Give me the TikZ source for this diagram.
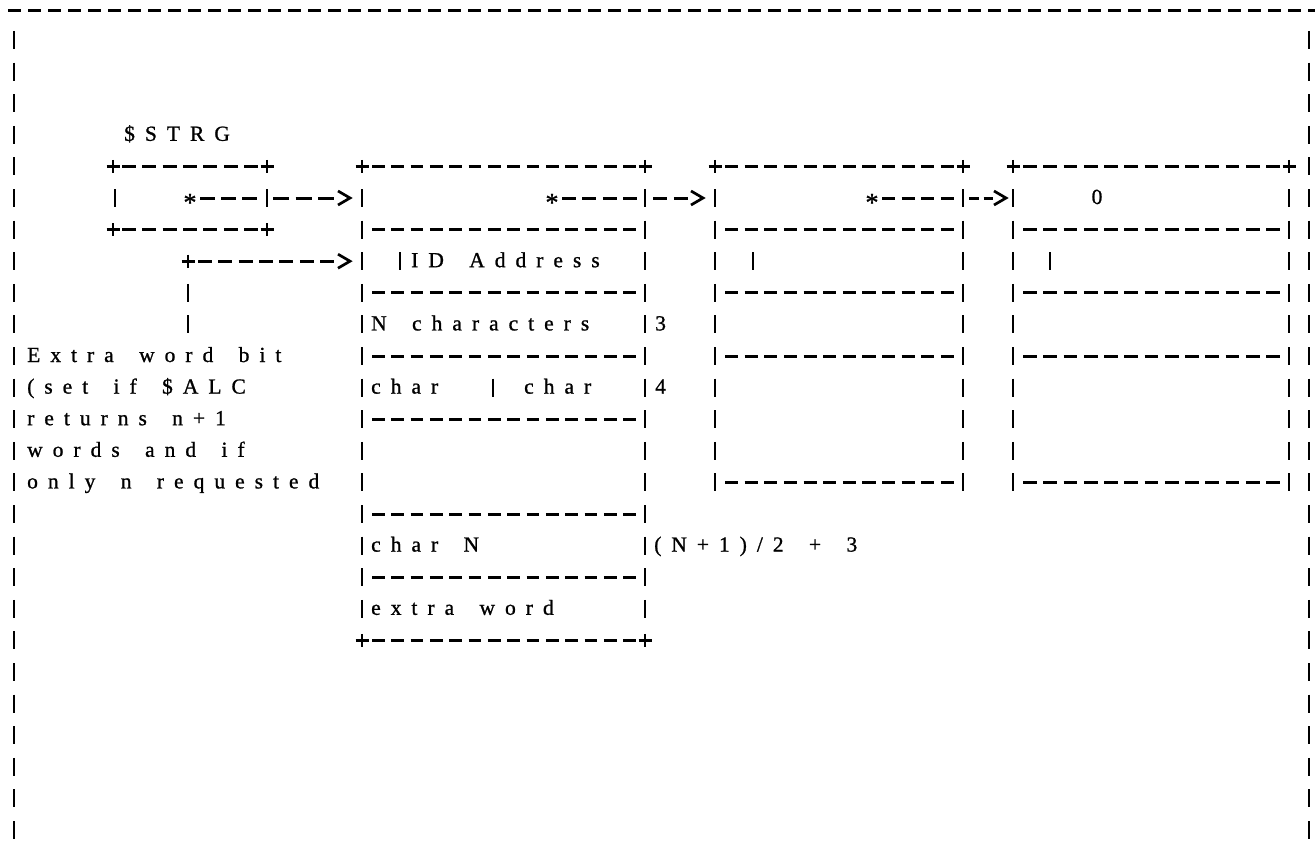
\documentclass[tikz,border=0pt]{standalone}
\usepackage{fontspec}
\setmainfont{Liberation Serif}
\newfontfamily\tw[FakeBold=1]{Liberation Serif}
\newlength\lsw \setlength\lsw{10pt}
\makeatletter
\def\ls@end{\ls@end}
\def\ls@loop#1{\ifx#1\ls@end\else#1\kern\lsw\expandafter\ls@loop\fi}
\newcommand\spaced[1]{\ls@loop#1\ls@end}
\makeatother
% glyph-like marks of the ASCII drawing
\newcommand\VB[2]{\draw[ink] (#1,{ry(#2)-9}) -- (#1,{ry(#2)+9});}
\newcommand\PL[2]{\draw[ink] (#1-6.5,{ry(#2)}) -- (#1+6.5,{ry(#2)}) (#1,{ry(#2)-6.5}) -- (#1,{ry(#2)+6.5});}
\newcommand\AR[2]{\draw[ink,line join=miter] (#1-6,{ry(#2)-7}) -- (#1+6,{ry(#2)}) -- (#1-6,{ry(#2)+7});}
\newcommand\DR[4]{\pgfmathsetmacro\dashlen{(#2-#1-(#4-1)*6.5)/#4}\draw[dsh,dash pattern=on \dashlen pt off 6.5pt] (#1,{ry(#3)}) -- (#2,{ry(#3)});}
\begin{document}
\begin{tikzpicture}[x=1pt,y=-1pt,
  declare function={ry(\r)=40+(\r-1)*31.6;},
  ink/.style={line width=2.7pt,line cap=butt},
  dsh/.style={line width=3pt,line cap=butt},
  txt/.style={anchor=base west,inner sep=0pt,font=\tw\fontsize{21.5}{24}\selectfont},
  star/.style={anchor=base,inner sep=0pt,font=\tw\fontsize{26}{26}\selectfont},
  digit/.style={anchor=base,inner sep=0pt,font=\tw\fontsize{21.5}{24}\selectfont}]
\useasboundingbox (0,0) rectangle (1315,859);
% frame
\draw[dsh,dash pattern=on 13pt off 7pt] (8,11) -- (1315,11);
\foreach \r in {1,...,26}{\VB{14}{\r}\VB{1309}{\r}}
% ---------- box 1 ($STRG)
\node[txt] (strg) at (124,{ry(4)+6}) {\spaced{\$STRG}};
\PL{113}{5}\DR{122}{258}{5}{7}\PL{267}{5}
\VB{115}{6}\node[star] (s1) at (190,{ry(6)+13}) {*};
\DR{200}{257}{6}{3}\VB{267}{6}\DR{273}{334}{6}{3}\AR{344}{6}
\PL{113}{7}\DR{122}{258}{7}{7}\PL{267}{7}
\PL{188}{8}\DR{198}{334}{8}{7}\AR{344}{8}
\VB{188}{9}\VB{188}{10}
% left note
\node[txt] (n1) at (27,{ry(11)+6}) {\spaced{Extra~word~bit}};
\node[txt] (n2) at (27,{ry(12)+6}) {\spaced{(set~if~\$ALC}};
\node[txt] (n3) at (27,{ry(13)+6}) {\spaced{returns~n+1}};
\node[txt] (n4) at (27,{ry(14)+6}) {\spaced{words~and~if}};
\node[txt] (n5) at (27,{ry(15)+6}) {\spaced{only~n~requested}};
% ---------- box 2
\PL{362}{5}\DR{372}{636}{5}{14}\PL{645}{5}
\PL{362}{20}\DR{372}{636}{20}{14}\PL{645}{20}
\foreach \r in {6,8,10,12,14,15,17,19}{\VB{362}{\r}\VB{645}{\r}}
\foreach \r in {7,9,11,13,16,18}{\VB{362}{\r}\DR{372}{636}{\r}{14}\VB{645}{\r}}
\node[star] (s2) at (552,{ry(6)+13}) {*};
\DR{562}{637}{6}{4}\DR{653}{688}{6}{2}\AR{697}{6}
\VB{400}{8}
\node[txt] (idad) at (411,{ry(8)+6}) {\spaced{ID~Address}};
\node[txt] (nchr) at (371,{ry(10)+6}) {\spaced{N~characters}};
\node[txt] (c3) at (655,{ry(10)+6}) {3};
\node[txt] (ch1) at (371,{ry(12)+6}) {\spaced{char}};
\VB{493}{12}
\node[txt] (ch2) at (524,{ry(12)+6}) {\spaced{char}};
\node[txt] (c4) at (655,{ry(12)+6}) {4};
\node[txt] (chn) at (371,{ry(17)+6}) {\spaced{char~N}};
\node[txt] (form) at (654,{ry(17)+6}) {\spaced{(N+1)/2~+~3}};
\node[txt] (exw) at (371,{ry(19)+6}) {\spaced{extra~word}};
% ---------- box 3
\PL{715}{5}\DR{725}{954}{5}{12}\PL{963}{5}
\foreach \r in {6,8,10,12,13,14}{\VB{715}{\r}\VB{963}{\r}}
\foreach \r in {7,9,11,15}{\VB{715}{\r}\DR{725}{954}{\r}{12}\VB{963}{\r}}
\node[star] (s3) at (872,{ry(6)+13}) {*};
\DR{882}{954}{6}{4}
\draw[dsh,dash pattern=on 9.5pt off 5pt] (969,{ry(6)}) -- (993,{ry(6)});
\AR{1000}{6}
\VB{753}{8}
% ---------- box 4
\PL{1013}{5}\DR{1023}{1280}{5}{13}\PL{1289}{5}
\foreach \r in {6,8,10,12,13,14}{\VB{1013}{\r}\VB{1289}{\r}}
\foreach \r in {7,9,11,15}{\VB{1013}{\r}\DR{1023}{1280}{\r}{13}\VB{1289}{\r}}
\node[digit] (zero) at (1097,{ry(6)+6}) {0};
\VB{1050}{8}
\end{tikzpicture}
\end{document}
